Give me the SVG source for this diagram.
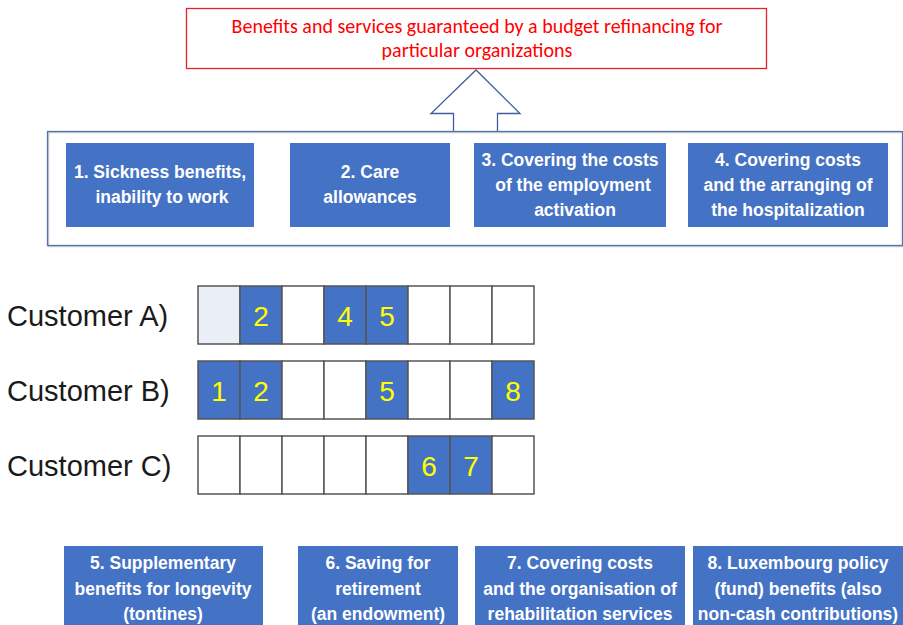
<svg xmlns="http://www.w3.org/2000/svg" width="903" height="625" viewBox="0 0 903 625">
  <style>
    .svc rect { fill: #4472C4; }
    .svc text { fill: #FFFFFF; font-family: "Liberation Sans", Arial, sans-serif; font-weight: bold; font-size: 17.5px; text-anchor: middle; }
    .cust { fill: #1a1a1a; font-family: "Liberation Sans", Arial, sans-serif; font-size: 29px; }
    .cell { stroke: #555555; stroke-width: 1.5; fill: #FFFFFF; }
    .on { fill: #4472C4; }
    .num { fill: #FFFF00; font-family: "Liberation Sans", Arial, sans-serif; font-size: 28px; text-anchor: middle; }
  </style>

  <rect width="903" height="625" fill="#FFFFFF"/>

  <!-- Title box -->
  <g id="title">
    <rect x="186.5" y="8.5" width="580" height="60" fill="#FFFFFF" stroke="#E8202A" stroke-width="1.3"/>
    <text x="477" y="33" fill="#FF0000" font-family="Carlito, 'Liberation Sans', Arial, sans-serif" font-size="20" text-anchor="middle">Benefits and services guaranteed by a budget refinancing for</text>
    <text x="477" y="57" fill="#FF0000" font-family="Carlito, 'Liberation Sans', Arial, sans-serif" font-size="20" text-anchor="middle">particular organizations</text>
  </g>

  <g id="connectors">
    <!-- Upward block arrow from the services group to the title -->
    <path d="M453.5,131 L453.5,113.5 L431,113.5 L476,70 L520,113.5 L497.5,113.5 L497.5,131" fill="#FFFFFF" stroke="#3F5F9A" stroke-width="1.3"/>
  </g>

  <!-- Frame around services 1-4 -->
  <g id="group-frame">
    <rect x="48.5" y="132.5" width="855" height="114" fill="none" stroke="#C8D0DC" stroke-width="1.5"/>
    <rect x="47.5" y="131.5" width="855" height="114" fill="none" stroke="#5574AA" stroke-width="1.3"/>
  </g>

  <g id="service-1" class="svc">
    <rect x="66" y="143" width="188" height="84"/>
    <text x="160" y="178">1. Sickness benefits,</text>
    <text x="162" y="203">inability to work</text>
  </g>
  <g id="service-2" class="svc">
    <rect x="290" y="143" width="160" height="84"/>
    <text x="370" y="178">2. Care</text>
    <text x="370" y="203">allowances</text>
  </g>
  <g id="service-3" class="svc">
    <rect x="474" y="143" width="192" height="84"/>
    <text x="570" y="166">3. Covering the costs</text>
    <text x="573" y="191">of the employment</text>
    <text x="575" y="216">activation</text>
  </g>
  <g id="service-4" class="svc">
    <rect x="688" y="143" width="200" height="84"/>
    <text x="788" y="166">4. Covering costs</text>
    <text x="788" y="191">and the arranging of</text>
    <text x="788" y="216">the hospitalization</text>
  </g>

  <!-- Customer A -->
  <g id="customer-a">
    <text class="cust" x="7" y="326">Customer A)</text>
    <rect class="cell" x="198" y="286" width="42" height="58" style="fill:#E9EEF7"/>
    <rect class="cell on" x="240" y="286" width="42" height="58"/>
    <rect class="cell" x="282" y="286" width="42" height="58"/>
    <rect class="cell on" x="324" y="286" width="42" height="58"/>
    <rect class="cell on" x="366" y="286" width="42" height="58"/>
    <rect class="cell" x="408" y="286" width="42" height="58"/>
    <rect class="cell" x="450" y="286" width="42" height="58"/>
    <rect class="cell" x="492" y="286" width="42" height="58"/>
    <text class="num" x="261" y="326">2</text>
    <text class="num" x="345" y="326">4</text>
    <text class="num" x="387" y="326">5</text>
  </g>

  <!-- Customer B -->
  <g id="customer-b">
    <text class="cust" x="7" y="401">Customer B)</text>
    <rect class="cell on" x="198" y="361" width="42" height="58"/>
    <rect class="cell on" x="240" y="361" width="42" height="58"/>
    <rect class="cell" x="282" y="361" width="42" height="58"/>
    <rect class="cell" x="324" y="361" width="42" height="58"/>
    <rect class="cell on" x="366" y="361" width="42" height="58"/>
    <rect class="cell" x="408" y="361" width="42" height="58"/>
    <rect class="cell" x="450" y="361" width="42" height="58"/>
    <rect class="cell on" x="492" y="361" width="42" height="58"/>
    <text class="num" x="219" y="401">1</text>
    <text class="num" x="261" y="401">2</text>
    <text class="num" x="387" y="401">5</text>
    <text class="num" x="513" y="401">8</text>
  </g>

  <!-- Customer C -->
  <g id="customer-c">
    <text class="cust" x="7" y="476">Customer C)</text>
    <rect class="cell" x="198" y="436" width="42" height="58"/>
    <rect class="cell" x="240" y="436" width="42" height="58"/>
    <rect class="cell" x="282" y="436" width="42" height="58"/>
    <rect class="cell" x="324" y="436" width="42" height="58"/>
    <rect class="cell" x="366" y="436" width="42" height="58"/>
    <rect class="cell on" x="408" y="436" width="42" height="58"/>
    <rect class="cell on" x="450" y="436" width="42" height="58"/>
    <rect class="cell" x="492" y="436" width="42" height="58"/>
    <text class="num" x="429" y="476">6</text>
    <text class="num" x="471" y="476">7</text>
  </g>

  <g id="service-5" class="svc">
    <rect x="64" y="546" width="199" height="79"/>
    <text x="163" y="569">5. Supplementary</text>
    <text x="163" y="595">benefits for longevity</text>
    <text x="163" y="620">(tontines)</text>
  </g>
  <g id="service-6" class="svc">
    <rect x="298" y="546" width="160" height="79"/>
    <text x="378" y="569">6. Saving for</text>
    <text x="378" y="595">retirement</text>
    <text x="378" y="620">(an endowment)</text>
  </g>
  <g id="service-7" class="svc">
    <rect x="475" y="546" width="210" height="79"/>
    <text x="580" y="569">7. Covering costs</text>
    <text x="580" y="595">and the organisation of</text>
    <text x="580" y="620">rehabilitation services</text>
  </g>
  <g id="service-8" class="svc">
    <rect x="693" y="546" width="210" height="79"/>
    <text x="798" y="569">8. Luxembourg policy</text>
    <text x="798" y="595">(fund) benefits (also</text>
    <text x="798" y="620">non-cash contributions)</text>
  </g>
</svg>
